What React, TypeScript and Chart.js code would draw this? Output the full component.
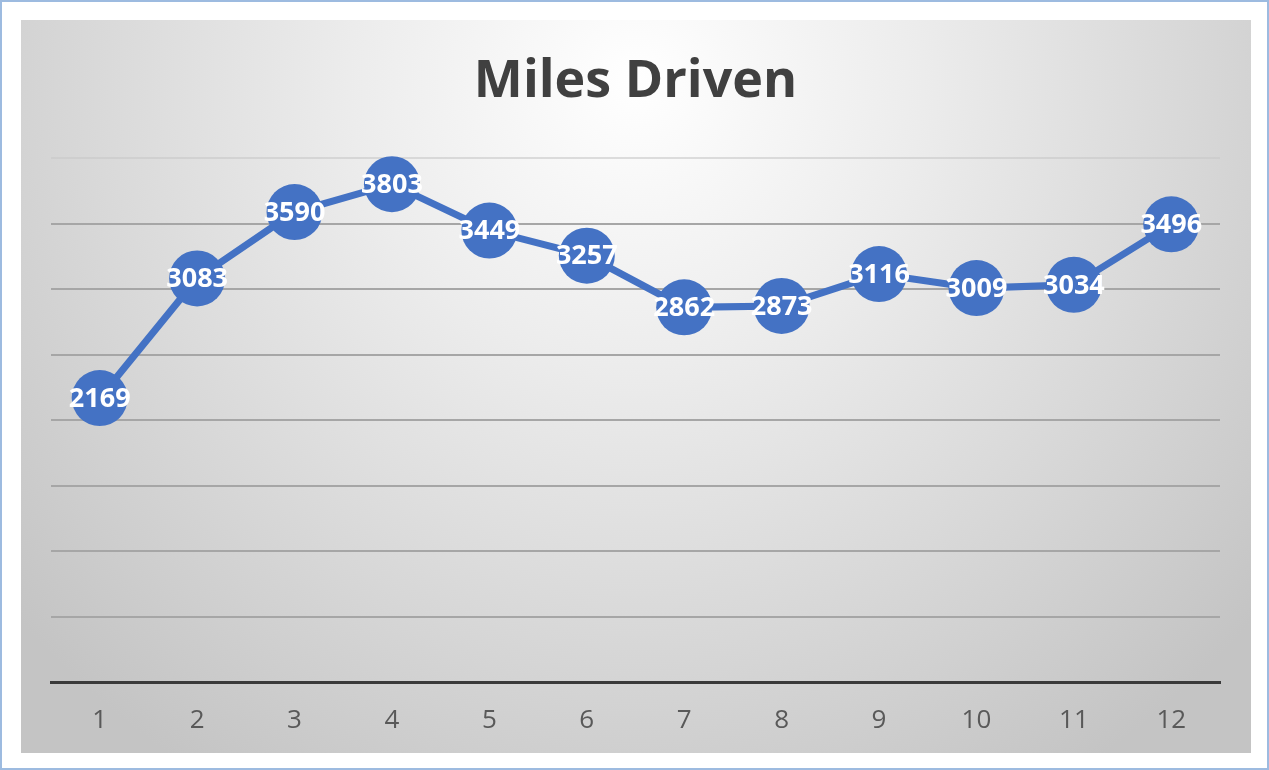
import React, { useEffect, useRef } from "react";
import { Chart, registerables } from "chart.js";

Chart.register(...registerables);

const months = ["1", "2", "3", "4", "5", "6", "7", "8", "9", "10", "11", "12"];
const milesDriven = [2169, 3083, 3590, 3803, 3449, 3257, 2862, 2873, 3116, 3009, 3034, 3496];
const chartTitle = "Miles Driven";
const yMin = 0;
const yMax = 4000;
const yStep = 500;

const bgPlugin = {
  id: "bgGradient",
  beforeDraw(chart: any) {
    const { ctx, width, height } = chart;
    ctx.save();
    const g = ctx.createRadialGradient(width / 2, 60, 0, width / 2, 60, 820);
    g.addColorStop(0, "#ffffff");
    g.addColorStop(0.35, "#ececec");
    g.addColorStop(1, "#c4c4c4");
    ctx.fillStyle = g;
    ctx.fillRect(0, 0, width, height);
    ctx.restore();
  },
};

const labelPlugin = {
  id: "pointLabels",
  afterDatasetsDraw(chart: any) {
    const { ctx } = chart;
    const meta = chart.getDatasetMeta(0);
    const data = chart.data.datasets[0].data;
    ctx.save();
    ctx.fillStyle = "#ffffff";
    ctx.font = "bold 27px 'Open Sans', sans-serif";
    ctx.textAlign = "center";
    ctx.textBaseline = "middle";
    meta.data.forEach((el: any, i: number) => {
      ctx.fillText(String(data[i]), el.x, el.y + 1);
    });
    ctx.restore();
  },
};

export default function App() {
  const ref = useRef<HTMLCanvasElement>(null);
  useEffect(() => {
    if (!ref.current) return;
    const chart = new Chart(ref.current, {
      type: "line",
      data: {
        labels: months,
        datasets: [
          {
            data: milesDriven,
            borderColor: "#4472C4",
            backgroundColor: "#4472C4",
            borderWidth: 7,
            pointRadius: 28,
            pointHoverRadius: 28,
            pointBorderWidth: 0,
            pointBackgroundColor: "#4472C4",
            tension: 0,
            clip: false as any,
          },
        ],
      },
      options: {
        animation: false,
        responsive: false,
        maintainAspectRatio: false,
        layout: { padding: { left: 30, right: 31, top: 0, bottom: 0 } },
        plugins: {
          legend: { display: false },
          tooltip: { enabled: false },
          title: {
            display: true,
            text: chartTitle,
            color: "#404040",
            font: { family: "'Open Sans', sans-serif", size: 52, weight: "bold" },
            padding: { top: 31, bottom: 45 },
          },
        },
        scales: {
          x: {
            offset: true,
            grid: { display: false, drawTicks: false },
            border: { display: true, color: "#3a3a3a", width: 3 },
            ticks: {
              color: "#595959",
              font: { family: "'Open Sans', sans-serif", size: 26 },
              padding: 23,
            },
            afterFit: (scale: any) => {
              scale.height = 71;
            },
          },
          y: {
            min: yMin,
            max: yMax,
            ticks: { display: false, stepSize: yStep },
            grid: {
              drawTicks: false,
              lineWidth: 2,
              color: (c: any) => (c.tick && c.tick.value === yMax ? "rgba(200,200,200,0.6)" : "#a6a6a6"),
            },
            border: { display: false },
          },
        },
      },
      plugins: [bgPlugin, labelPlugin],
    });
    return () => chart.destroy();
  }, []);

  return (
    <div
      style={{
        position: "fixed",
        left: 0,
        top: 0,
        width: 1269,
        height: 770,
        boxSizing: "border-box",
        border: "2px solid #9dbbe0",
        background: "#ffffff",
      }}
    >
      <canvas
        ref={ref}
        width={1230}
        height={733}
        style={{ position: "absolute", left: 19, top: 18, width: 1230, height: 733 }}
      />
    </div>
  );
}
